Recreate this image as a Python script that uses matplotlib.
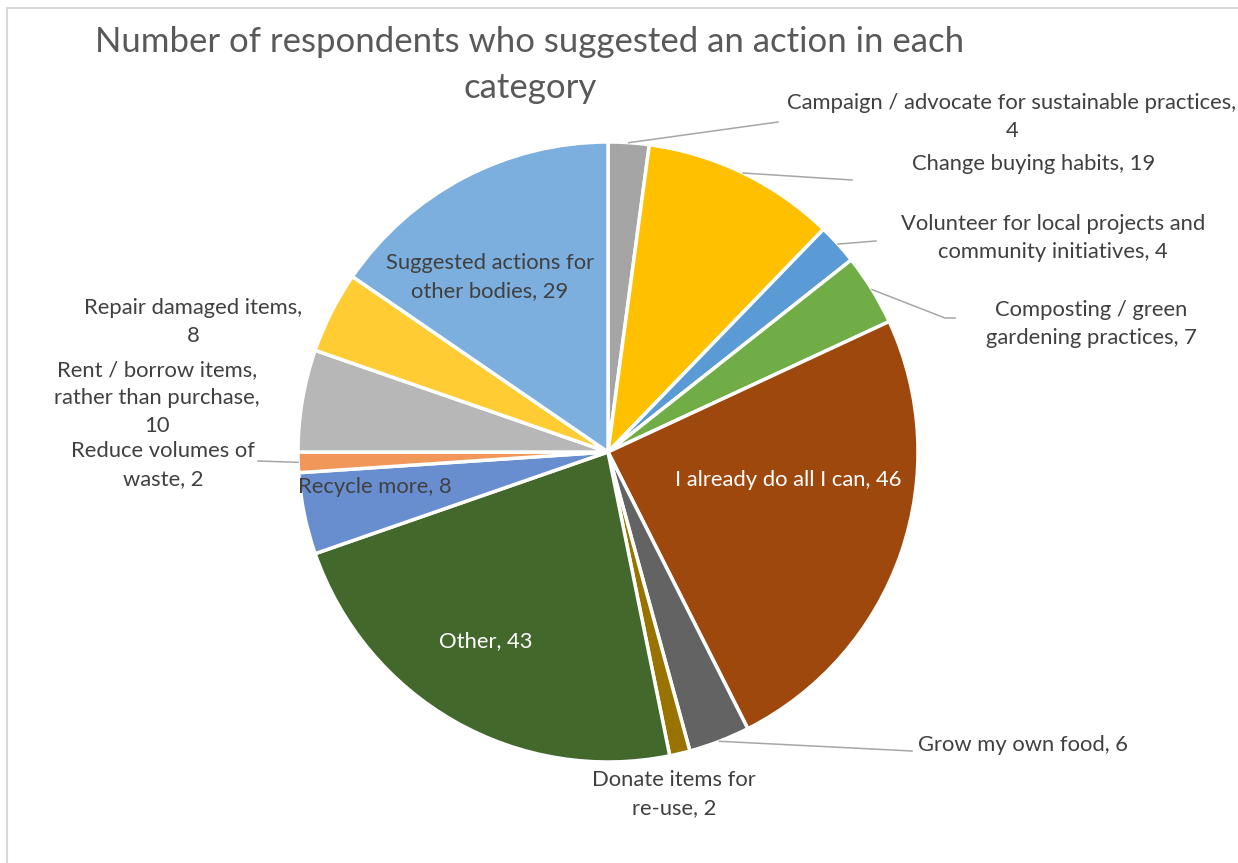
import numpy as np
import matplotlib.pyplot as plt

categories = [
    "Campaign / advocate for sustainable practices",
    "Change buying habits",
    "Volunteer for local projects and community initiatives",
    "Composting / green gardening practices",
    "I already do all I can",
    "Grow my own food",
    "Donate items for re-use",
    "Other",
    "Recycle more",
    "Reduce volumes of waste",
    "Rent / borrow items, rather than purchase",
    "Repair damaged items",
    "Suggested actions for other bodies",
]
values = [4, 19, 4, 7, 46, 6, 2, 43, 8, 2, 10, 8, 29]

# how the label text is broken into lines
label_text = [
    "Campaign / advocate for sustainable practices,\n{}",
    "Change buying habits, {}",
    "Volunteer for local projects and\ncommunity initiatives, {}",
    "Composting / green\ngardening practices, {}",
    "I already do all I can, {}",
    "Grow my own food, {}",
    "Donate items for\nre-use, {}",
    "Other, {}",
    "Recycle more, {}",
    "Reduce volumes of\nwaste, {}",
    "Rent / borrow items,\nrather than purchase,\n{}",
    "Repair damaged items,\n{}",
    "Suggested actions for\nother bodies, {}",
]

colors = ["#A5A5A5", "#FFC000", "#5B9BD5", "#70AD47", "#9E480E", "#636363",
          "#997300", "#43682B", "#698ED0", "#F1975A", "#B7B7B7", "#FFCD33",
          "#7CAFDD"]

W, H = 1238, 863
CX, CY, R = 608, 452, 310

# label centre in pixels, text colour, alignment, leader line bend points (pixels)
label_pos = [
    ((1012, 117), "#404040", "center", [(778, 122)]),
    ((1034, 164), "#404040", "center", [(852, 180)]),
    ((1053, 238), "#404040", "center", [(876, 241)]),
    ((1091, 324), "#404040", "center", [(945, 318), (955, 318)]),
    ((788, 480), "white", "center", None),
    ((918, 745), "#404040", "left", [(912, 751)]),
    ((674, 794), "#404040", "center", None),
    ((486, 641), "white", "center", None),
    ((375, 487), "#404040", "center", None),
    ((163, 465), "#404040", "center", [(258, 461)]),
    ((157, 398), "#404040", "center", None),
    ((193, 322), "#404040", "center", None),
    ((490, 277), "#404040", "center", None),
]


def to_data(px, py):
    return (px - CX) / R, (CY - py) / R


fig = plt.figure(figsize=(W / 100, H / 100), dpi=100)
ax = fig.add_axes([(CX - R) / W, (H - CY - R) / H, 2 * R / W, 2 * R / H])

wedges, _ = ax.pie(values, colors=colors, startangle=90, counterclock=False,
                   radius=1, wedgeprops=dict(edgecolor="white", linewidth=2.5))
ax.set_xlim(-1, 1)
ax.set_ylim(-1, 1)
ax.set_aspect("equal")
ax.axis("off")

font = "Lato"
total = sum(values)
start = 0
for i, v in enumerate(values):
    mid = np.deg2rad((start + v / 2) / total * 360)
    start += v
    (px, py), col, ha, leader = label_pos[i]
    x, y = to_data(px, py)
    ax.text(x, y, label_text[i].format(v), ha=ha, va="center", color=col,
            fontsize=15.8, family=font, linespacing=1.5, clip_on=False)
    if leader:
        pts = [(np.sin(mid), np.cos(mid))] + [to_data(*p) for p in leader]
        xs, ys = zip(*pts)
        ax.plot(xs, ys, color="#A6A6A6", lw=1.1, clip_on=False)

fig.text(530 / W, 1 - 65 / H,
         "Number of respondents who suggested an action in each\ncategory",
         ha="center", va="center", fontsize=25, color="#595959", family=font,
         linespacing=1.55)

# chart area border
fig.add_artist(plt.Line2D([7 / W, 7 / W], [0, 1 - 8 / H], color="#D9D9D9",
                          lw=1.5, transform=fig.transFigure))
fig.add_artist(plt.Line2D([7 / W, 1], [1 - 8 / H, 1 - 8 / H], color="#D9D9D9",
                          lw=1.5, transform=fig.transFigure))

fig.savefig("out.png", dpi=100)
